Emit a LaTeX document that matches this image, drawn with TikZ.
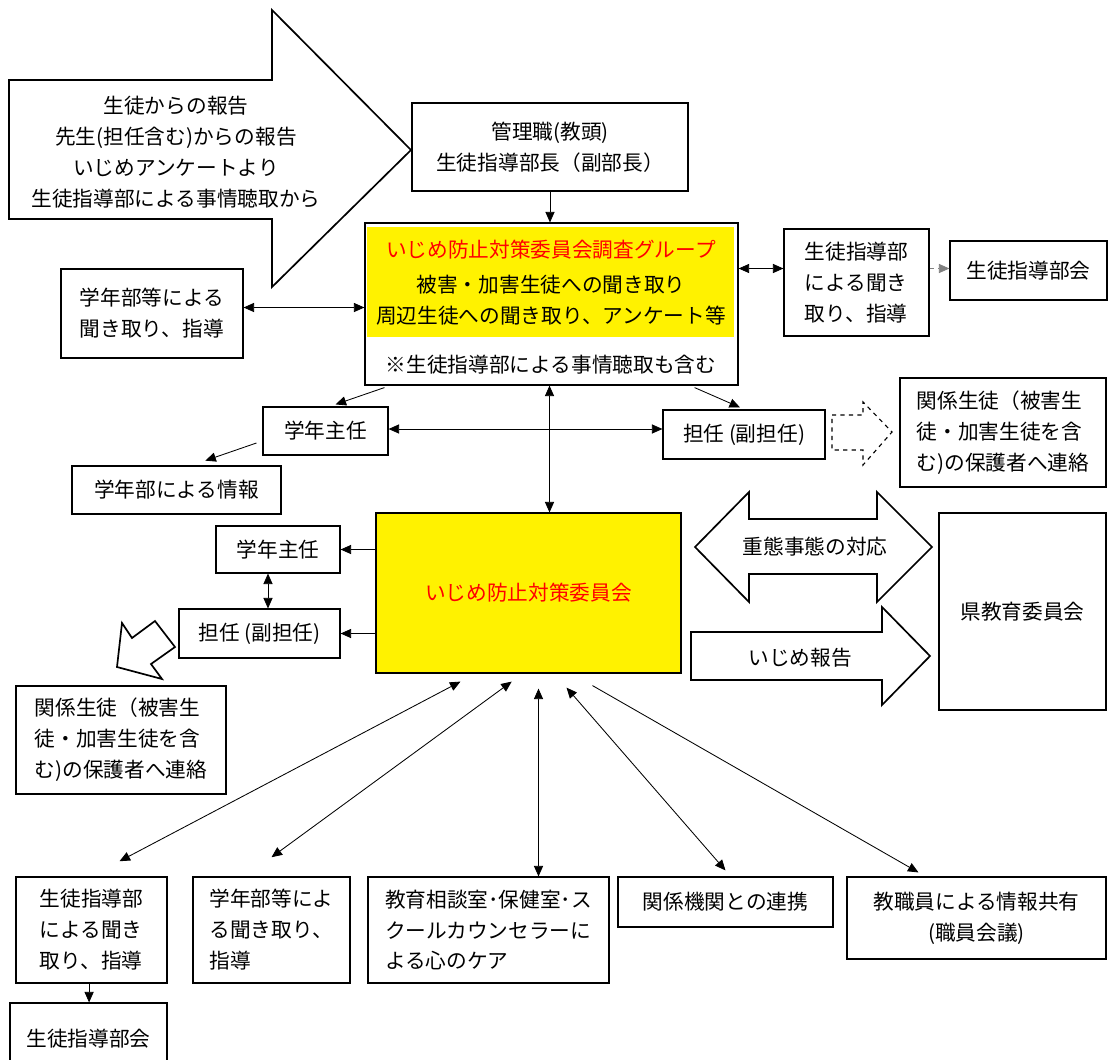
\documentclass[tikz,border=0pt]{standalone}
\usepackage{fontspec}
\setmainfont{Noto Sans CJK JP}
\usetikzlibrary{arrows.meta}

\begin{document}
\begin{tikzpicture}[
        x=0.025cm, y=-0.025cm,
        every node/.style={font=\fontsize{14.7}{22}\selectfont},
        box/.style={draw, line width=0.8pt, inner sep=0pt, align=center},
        lbox/.style={box, align=left},
        bigarrow/.style={draw, line width=1.2pt, line join=miter},
        arrow/.style={-{Triangle[length=7.5pt,width=6.5pt]}, line width=0.6pt},
        darrow/.style={{Triangle[length=7.5pt,width=6.5pt]}-{Triangle[length=7.5pt,width=6.5pt]}, line width=0.6pt},
        redtext/.style={text=red}
    ]
    \clip (0,0) rectangle (1108,1059);

    % Input arrow top left
    \draw[bigarrow] (9,80) -- (272,80) -- (272,10) -- (411,150) -- (272,287) -- (272,219) -- (9,219) -- cycle;
    \node[align=center] (src) at (176,152) {生徒からの報告\\先生(担任含む)からの報告\\いじめアンケートより\\生徒指導部による事情聴取から};

    % Top boxes
    \node[box, minimum width=6.9cm, minimum height=2.2cm] (kan) at (550,147) {管理職(教頭)\\生徒指導部長（副部長）};
    \node[box, minimum width=9.325cm, minimum height=4.05cm] (grp) at (551.5,304) {};
    \fill[yellow] (367,227) rectangle (734,337);
    \node[redtext] (grptitle) at (551,250) {いじめ防止対策委員会調査グループ};
    \node[align=center] (grptext) at (551,300) {被害・加害生徒への聞き取り\\周辺生徒への聞き取り、アンケート等};
    \node (grpnote) at (551,365) {※生徒指導部による事情聴取も含む};

    % Boxes beside the group
    \node[lbox, minimum width=4.55cm, minimum height=2.225cm] (gl) at (152,313.5) {学年部等による\\聞き取り、指導};
    \node[lbox, minimum width=3.625cm, minimum height=2.675cm] (sr) at (856.5,282.5) {生徒指導部\\による聞き\\取り、指導};
    \node[box, minimum width=3.925cm, minimum height=1.475cm] (sk) at (1028.5,270.5) {生徒指導部会};

    % Middle row
    \node[box, minimum width=3.125cm, minimum height=1.2cm] (gs1) at (325.5,431) {学年主任};
    \node[box, minimum width=4.05cm, minimum height=1.225cm] (tan1) at (744,434.5) {担任 (副担任)};
    \node[box, minimum width=5.225cm, minimum height=1.2cm] (gj) at (176.5,490) {学年部による情報};
    \node[lbox, minimum width=5.15cm, minimum height=2.725cm] (ks1) at (1003,432.5) {関係生徒（被害生\\徒・加害生徒を含\\む)の保護者へ連絡};
    \draw[bigarrow, dashed, line width=0.8pt] (832,415) -- (863,415) -- (863,402) -- (892,432) -- (863,465) -- (863,450) -- (832,450) -- cycle;

    % Committee
    \node[box, fill=yellow, text=red, minimum width=7.625cm, minimum height=4cm] (cmt) at (528.5,593) {いじめ防止対策委員会};
    \node[box, minimum width=3.1cm, minimum height=1.175cm] (gs2) at (278,549.5) {学年主任};
    \node[box, minimum width=4.025cm, minimum height=1.225cm] (tan2) at (259.5,633.5) {担任 (副担任)};
    \node[lbox, minimum width=5.25cm, minimum height=2.7cm] (ks2) at (121,740) {関係生徒（被害生\\徒・加害生徒を含\\む)の保護者へ連絡};
    \draw[bigarrow] (155,621) -- (175,647) -- (151,664) -- (162,679) -- (117,667) -- (122,623) -- (132,638) -- cycle;

    % Prefecture board
    \node[box, minimum width=4.175cm, minimum height=4.925cm] (ken) at (1022.5,611.5) {県教育委員会};
    \draw[bigarrow] (695,547) -- (749,492) -- (749,519) -- (877,519) -- (877,492) -- (932,547) -- (877,602) -- (877,574) -- (749,574) -- (749,602) -- cycle;
    \node (serious) at (815,547) {重態事態の対応};
    \draw[bigarrow] (691,632) -- (882,632) -- (882,607) -- (930,656) -- (882,705) -- (882,680) -- (691,680) -- cycle;
    \node (report) at (800,658) {いじめ報告};

    % Bottom row
    \node[lbox, minimum width=3.775cm, minimum height=2.65cm] (bs) at (91.5,930) {生徒指導部\\による聞き\\取り、指導};
    \node[box, minimum width=3.925cm, minimum height=1.8cm] (bk2) at (88.5,1039) {生徒指導部会};
    \node[lbox, minimum width=3.925cm, minimum height=2.65cm] (bg) at (271.5,930) {学年部等によ\\る聞き取り、\\指導};
    \node[lbox, minimum width=6.025cm, minimum height=2.65cm] (bc) at (488.5,930) {教育相談室･保健室･ス\\クールカウンセラーに\\よる心のケア};
    \node[box, minimum width=5.375cm, minimum height=1.25cm] (bk) at (725.5,902) {関係機関との連携};
    \node[box, minimum width=6.475cm, minimum height=2.05cm] (be) at (976.5,918) {教職員による情報共有\\(職員会議)};

    % Connectors at the top
    \draw[arrow] (kan.south) -- (kan.south |- grp.north);
    \draw[darrow] ([yshift=0.15cm]gl.east) -- ([yshift=0.15cm]gl.east -| grp.west);
    \draw[darrow] ([yshift=0.35cm]sr.west -| grp.east) -- ([yshift=0.35cm]sr.west);
    \draw[arrow, dashed, gray] ([yshift=0.35cm]sr.east) -- ([yshift=0.35cm]sr.east -| sk.west);

    % Connectors in the middle
    \draw[arrow] ([xshift=0.5cm,yshift=-0.05cm]grp.south west) -- ([xshift=0.25cm,yshift=0.05cm]gs1.north);
    \draw[arrow] ([xshift=-1.1cm,yshift=-0.05cm]grp.south east) -- ([xshift=-0.1cm,yshift=0.05cm]tan1.north);
    \draw[arrow] ([xshift=-0.15cm,yshift=-0.3cm]gs1.west) -- ([xshift=0.72cm,yshift=0.12cm]gj.north);
    \draw[darrow] ([yshift=0.05cm]gs1.east) -- ([yshift=0.05cm]gs1.east -| tan1.west);
    \draw[darrow] (grp.south -| cmt.north) ++(0.525cm,0) coordinate (vtop) -- (vtop |- cmt.north);
    \draw[arrow] (cmt.west |- gs2.east) -- (gs2.east);
    \draw[arrow] (cmt.west |- tan2.east) -- (tan2.east);
    \draw[darrow] ([xshift=-0.25cm]gs2.south) -- ([xshift=-0.25cm]gs2.south |- tan2.north);

    % Connectors at the bottom
    \draw[darrow] ([xshift=-1.7cm,yshift=-0.2cm]cmt.south) -- ([xshift=0.7cm,yshift=0.38cm]bs.north);
    \draw[darrow] ([xshift=-0.42cm,yshift=-0.2cm]cmt.south) -- ([yshift=0.48cm]bg.north);
    \draw[darrow] ([xshift=0.25cm,yshift=-0.375cm]cmt.south) coordinate (vbot) -- (vbot |- bc.north);
    \draw[darrow] ([xshift=0.95cm,yshift=-0.35cm]cmt.south) -- ([yshift=0.15cm]bk.north);
    \draw[arrow] ([xshift=1.6cm,yshift=-0.3cm]cmt.south) -- ([xshift=-1.45cm,yshift=0.1cm]be.north);
    \draw[arrow] ([xshift=-0.06cm]bs.south) -- ([xshift=-0.06cm]bs.south |- bk2.north);

\end{tikzpicture}
\end{document}
